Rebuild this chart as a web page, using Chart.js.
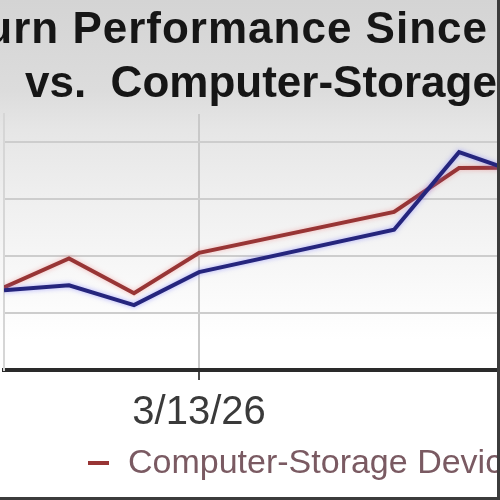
<!DOCTYPE html>
<html>
<head>
<meta charset="utf-8">
<script src="https://cdn.jsdelivr.net/npm/chart.js@4.4.1/dist/chart.umd.min.js"></script>
<style>
  html, body { margin: 0; padding: 0; }
  body { width: 500px; height: 500px; overflow: hidden; }
  #wrap {
    position: relative; width: 500px; height: 500px;
    background: linear-gradient(to bottom, #d4d4d4 0px, #dcdcdc 90px, #e6e6e6 130px, #eeeeee 190px, #f5f5f5 250px, #fcfcfc 310px, #ffffff 340px);
  }
  #frame {
    position: absolute; left: 0; top: 0; width: 500px; height: 500px; box-sizing: border-box;
    border-right: 3px solid #3c3c3c; border-bottom: 3px solid #3c3c3c; pointer-events: none;
  }
</style>
</head>
<body>
<div id="wrap">
  <canvas id="chart" width="500" height="500"></canvas>
  <div id="frame"></div>
</div>
<script>
// ── DATA ──────────────────────────────────────────────────────────────────
const titleLines   = ['Return Performance Since', 'vs.  Computer-Storage Devices'];
const tradeDates   = ['3/10/26', '3/11/26', '3/12/26', '3/13/26', '3/16/26', '3/17/26', '3/18/26'];
const stockReturn  = [-1.2, -1.02, -1.72, -0.56, 0.93, 3.66, 2.86];   // blue
const groupReturn  = [-1.1, -0.08, -1.3, 0.12, 1.56, 3.1, 3.12];      // red
const xTickLabels  = ['3/13/26'];
const seriesNames  = ['Stock', 'Computer-Storage Devices'];

// día del mes a partir de 'm/d/yy'
const dayOf = s => Number(s.split('/')[1]);
const xy = (vals) => vals.map((v, i) => ({ x: dayOf(tradeDates[i]), y: v }));
const tickDays = xTickLabels.map(dayOf);

// ── PLUGINS ───────────────────────────────────────────────────────────────
const glowPlugin = {
  id: 'glow',
  beforeDatasetDraw(chart, args) {
    const ctx = chart.ctx;
    ctx.save();
    ctx.shadowColor = args.index === 0 ? 'rgba(110,110,255,0.55)' : 'rgba(240,130,130,0.55)';
    ctx.shadowBlur = 5;
  },
  afterDatasetDraw(chart) { chart.ctx.restore(); },
};

const headerPlugin = {
  id: 'header',
  afterDraw(chart) {
    const ctx = chart.ctx;
    ctx.save();
    ctx.fillStyle = '#161616';
    ctx.font = 'bold 44px "Liberation Sans", Arial, sans-serif';
    ctx.textBaseline = 'alphabetic';
    ctx.textAlign = 'right';
    ctx.letterSpacing = '1px';
    ctx.fillText(titleLines[0], 488, 43);
    ctx.letterSpacing = '0px';
    ctx.textAlign = 'left';
    ctx.fillText(titleLines[1], 25, 97);

    // leyenda (solo el grupo queda dentro del recorte)
    const ds = chart.data.datasets[1];
    ctx.strokeStyle = ds.borderColor;
    ctx.lineWidth = 4;
    ctx.beginPath();
    ctx.moveTo(88, 463);
    ctx.lineTo(109, 463);
    ctx.stroke();
    ctx.fillStyle = '#7a5a62';
    ctx.font = '34px "Liberation Sans", Arial, sans-serif';
    ctx.fillText(ds.label, 128, 473);
    ctx.restore();
  },
};

// ── CHART ─────────────────────────────────────────────────────────────────
new Chart(document.getElementById('chart'), {
  type: 'line',
  data: {
    datasets: [
      { label: seriesNames[0], data: xy(stockReturn), borderColor: '#25257d', borderWidth: 4, pointRadius: 0, tension: 0 },
      { label: seriesNames[1], data: xy(groupReturn), borderColor: '#983535', borderWidth: 4, pointRadius: 0, tension: 0 },
    ],
  },
  options: {
    responsive: false, animation: false,
    layout: { padding: { top: 114, left: 4, right: 0, bottom: 54 } },
    plugins: { legend: { display: false }, title: { display: false }, tooltip: { enabled: false } },
    scales: {
      x: {
        type: 'linear', min: 10, max: 17.63,
        afterBuildTicks: axis => { axis.ticks = tickDays.map(v => ({ value: v })); },
        ticks: {
          color: '#3a3a3a', padding: 9, maxRotation: 0,
          font: { family: '"Liberation Sans", Arial, sans-serif', size: 40 },
          callback: v => xTickLabels[tickDays.indexOf(v)] ?? '',
        },
        grid: { color: '#c9c9c9', lineWidth: 2, tickColor: '#4a4a4a', tickWidth: 2, tickLength: 10 },
        border: { color: '#2a2a2a', width: 4 },
      },
      y: {
        min: -4, max: 5,
        ticks: { display: false, stepSize: 2 },
        grid: {
          drawTicks: false, lineWidth: 2,
          color: c => (c.tick && c.tick.value % 2 === 0) ? '#cdcdcd' : 'rgba(0,0,0,0)',
        },
        border: { color: '#d6d6d6', width: 2 },
      },
    },
  },
  plugins: [glowPlugin, headerPlugin],
});
</script>
</body>
</html>
